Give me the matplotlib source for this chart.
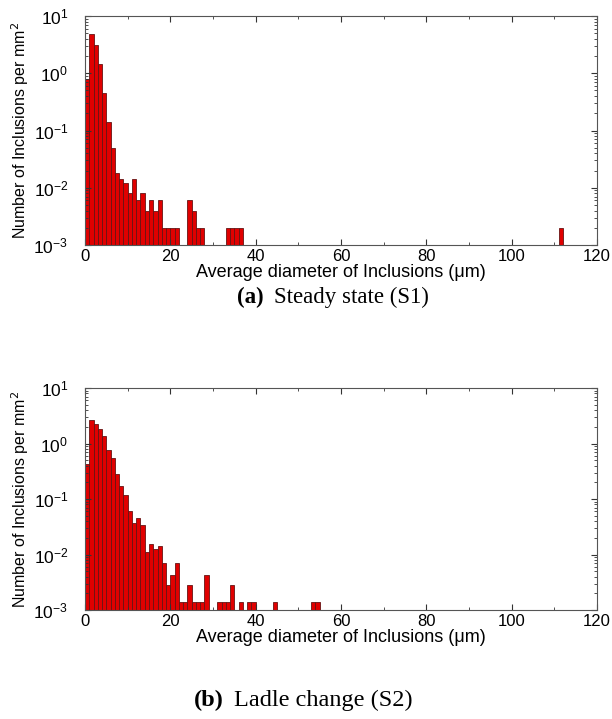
import numpy as np
import matplotlib
matplotlib.use("Agg")
import matplotlib.pyplot as plt
from matplotlib.ticker import MultipleLocator, LogLocator, NullFormatter

# ---- data: bin left edge (um) and density (per mm^2), 1 um bins ----
a_diam = list(range(0, 22)) + [24, 25, 26, 27, 33, 34, 35, 36, 111]
a_dens = [0.78, 4.8, 3.1, 1.45, 0.445, 0.14, 0.05, 0.018, 0.014, 0.012,
          0.008, 0.014, 0.006, 0.008, 0.004, 0.006, 0.004, 0.006, 0.002,
          0.002, 0.002, 0.002,
          0.006, 0.004, 0.002, 0.002,
          0.002, 0.002, 0.002, 0.002,
          0.002]

b_diam = list(range(0, 29)) + [31, 32, 33, 34, 36, 38, 39, 44, 53, 54]
b_dens = [0.43, 2.6, 2.2, 1.8, 1.35, 0.77, 0.55, 0.28, 0.17, 0.12,
          0.061, 0.037, 0.046, 0.034, 0.0112, 0.0154, 0.0126, 0.014, 0.007,
          0.0028, 0.0042, 0.007, 0.0014, 0.0014, 0.0028, 0.0014, 0.0014,
          0.0014, 0.0042,
          0.0014, 0.0014, 0.0014, 0.0028, 0.0014, 0.0014, 0.0014, 0.0014,
          0.0014, 0.0014]

x_ticks = [0, 20, 40, 60, 80, 100, 120]

plt.rcParams["font.family"] = ["Liberation Sans", "DejaVu Sans"]

fig = plt.figure(figsize=(6.12, 7.19), dpi=100)

W, H = 612.0, 719.0
ax_a = fig.add_axes([85 / W, 1 - 245 / H, 512 / W, 229 / H])
ax_b = fig.add_axes([85 / W, 1 - 610 / H, 512 / W, 222 / H])


def draw(ax, diam, dens):
    ax.bar(diam, dens, width=1.0, align="edge", color="#e00000",
           edgecolor="#661414", linewidth=0.6)
    ax.set_yscale("log")
    ax.set_ylim(1e-3, 10)
    ax.set_xlim(0, 120)
    ax.set_xticks(x_ticks)
    ax.xaxis.set_minor_locator(MultipleLocator(10))
    ax.yaxis.set_major_locator(LogLocator(base=10, numticks=10))
    ax.yaxis.set_minor_locator(LogLocator(base=10, subs=np.arange(2, 10), numticks=10))
    ax.yaxis.set_minor_formatter(NullFormatter())
    ax.tick_params(which="both", direction="in", top=True, right=True,
                   colors="#333333", labelcolor="black")
    ax.tick_params(axis="x", labelsize=12, pad=3)
    ax.tick_params(axis="y", labelsize=12.5, pad=12)
    ax.tick_params(which="major", length=4)
    ax.tick_params(which="minor", length=2)
    for s in ax.spines.values():
        s.set_color("#555555")
        s.set_linewidth(0.8)
    ax.set_xlabel("Average diameter of Inclusions (\u03bcm)", fontsize=13, labelpad=0)
    ax.set_ylabel("Number of Inclusions per mm$^2$", fontsize=11.5, labelpad=2)


draw(ax_a, a_diam, a_dens)
draw(ax_b, b_diam, b_dens)

serif = ["Liberation Serif", "DejaVu Serif"]
fig.text(264 / W, 1 - 297 / H, "(a)", family=serif, fontsize=16.5,
         fontweight="bold", ha="right", va="center")
fig.text(274 / W, 1 - 297 / H, "Steady state (S1)", family=serif,
         fontsize=16.5, ha="left", va="center")
fig.text(224 / W, 1 - 700 / H, "(b)", family=serif, fontsize=17.5,
         fontweight="bold", ha="right", va="center")
fig.text(234 / W, 1 - 700 / H, "Ladle change (S2)", family=serif,
         fontsize=17.5, ha="left", va="center")

fig.savefig("out.png", dpi=100)
